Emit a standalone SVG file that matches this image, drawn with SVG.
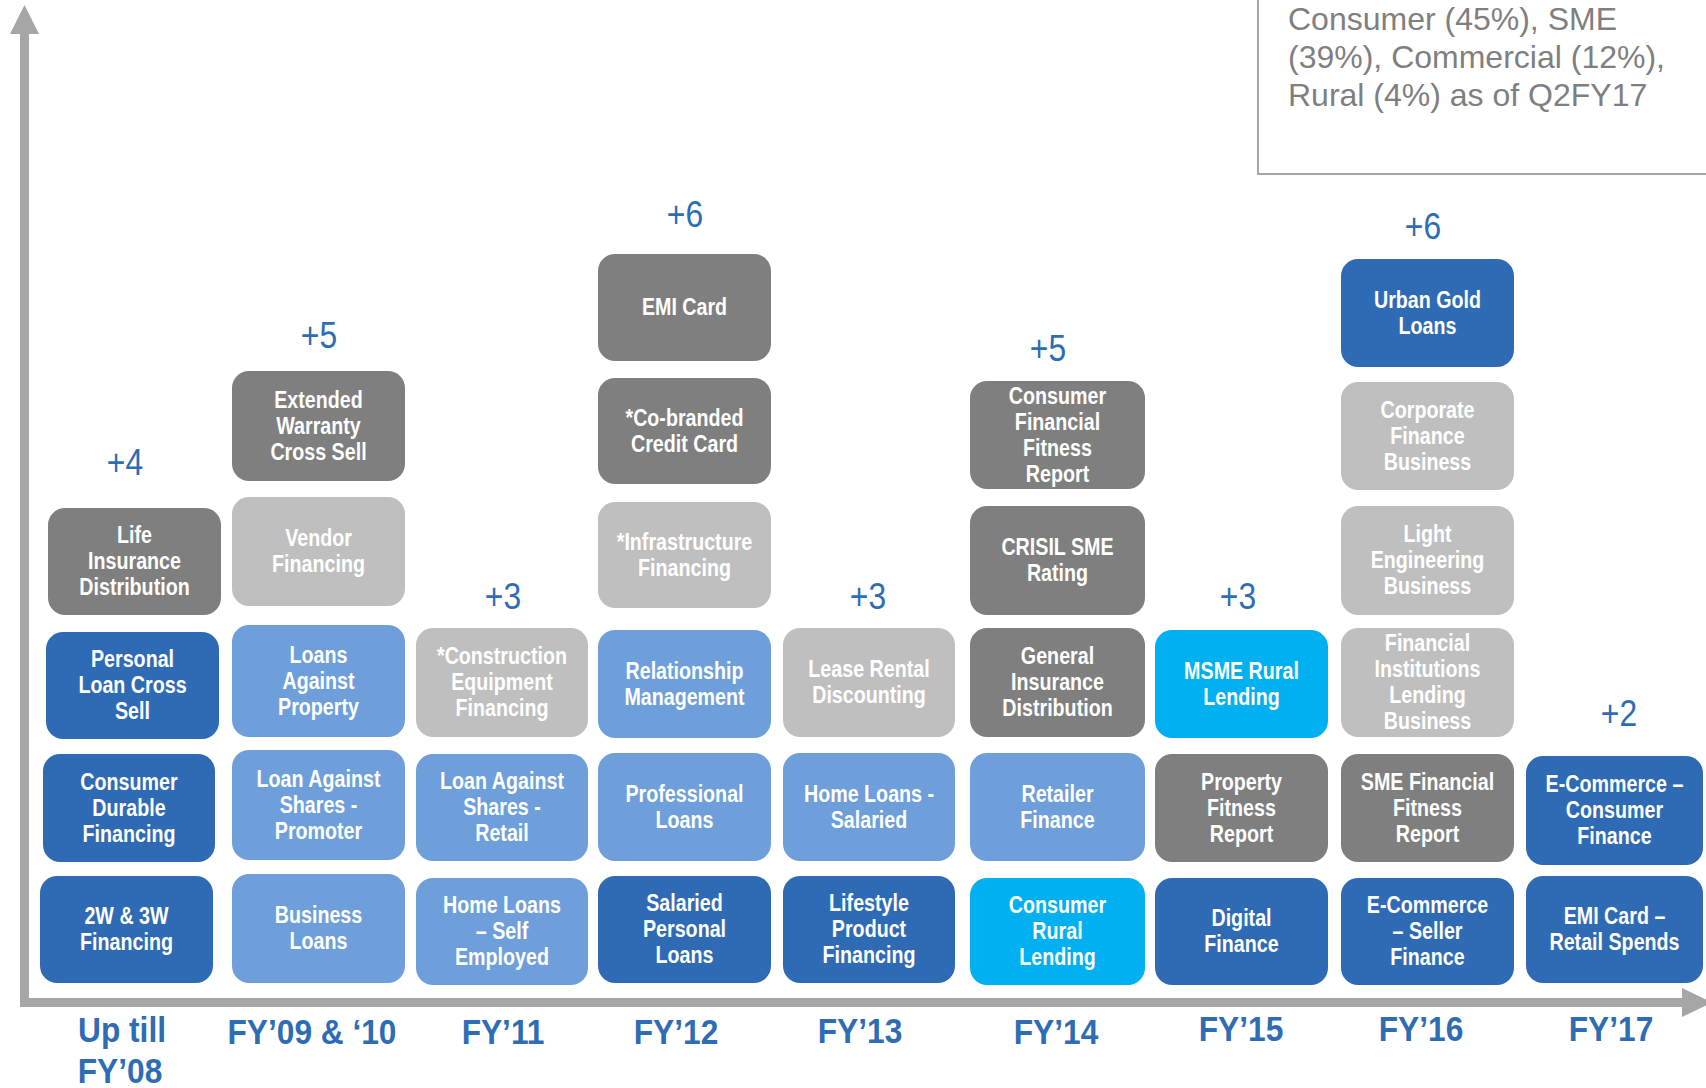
<svg xmlns="http://www.w3.org/2000/svg" width="1706" height="1088" viewBox="0 0 1706 1088">
<style>
.db{fill:#2F6BB5}.mb{fill:#6E9FDA}.dg{fill:#7F7F7F}.lg{fill:#BFBFBF}.cy{fill:#00B0F0}
.t{font-family:"Liberation Sans",Arial,sans-serif;font-weight:bold;font-size:24px;fill:#FFFFFF;text-anchor:middle}
.p{font-family:"Liberation Sans",Arial,sans-serif;font-size:37px;fill:#2E6DB4;text-anchor:middle}
.y{font-family:"Liberation Sans",Arial,sans-serif;font-weight:bold;font-size:36px;fill:#2E6DB4;text-anchor:middle}
.lgd{font-family:"Liberation Sans",Arial,sans-serif;font-size:32px;fill:#7F7F7F}
</style>
<g id="connectors">
<path d="M24.5 33 V1002.5 H1684" fill="none" stroke="#A6A6A6" stroke-width="9"/>
<polygon points="10,34 39,34 24.5,5" fill="#A6A6A6"/>
<polygon points="1682,988 1682,1017 1712,1002.5" fill="#A6A6A6"/>
</g>
<g id="legend">
<rect x="1258" y="-10" width="470" height="184" fill="#FFFFFF" stroke="#A6A6A6" stroke-width="2"/>
<text class="lgd" x="1288" y="30">Consumer (45%), SME</text>
<text class="lgd" x="1288" y="68">(39%), Commercial (12%),</text>
<text class="lgd" x="1288" y="106">Rural (4%) as of Q2FY17</text>
</g>
<g id="plus-labels">
<text class="p" transform="matrix(0.86,0,0,1,125,0)" x="0" y="475">+4</text>
<text class="p" transform="matrix(0.86,0,0,1,319,0)" x="0" y="348">+5</text>
<text class="p" transform="matrix(0.86,0,0,1,503,0)" x="0" y="609">+3</text>
<text class="p" transform="matrix(0.86,0,0,1,685,0)" x="0" y="227">+6</text>
<text class="p" transform="matrix(0.86,0,0,1,868,0)" x="0" y="609">+3</text>
<text class="p" transform="matrix(0.86,0,0,1,1048,0)" x="0" y="361">+5</text>
<text class="p" transform="matrix(0.86,0,0,1,1238,0)" x="0" y="609">+3</text>
<text class="p" transform="matrix(0.86,0,0,1,1423,0)" x="0" y="239">+6</text>
<text class="p" transform="matrix(0.86,0,0,1,1619,0)" x="0" y="726">+2</text>
</g>
<g id="year-labels">
<text class="y" transform="matrix(0.88,0,0,1,122,0)" x="0" y="1042">Up till</text>
<text class="y" transform="matrix(0.88,0,0,1,120,0)" x="0" y="1083">FY’08</text>
<text class="y" transform="matrix(0.88,0,0,1,312,0)" x="0" y="1044">FY’09 &amp; ‘10</text>
<text class="y" transform="matrix(0.88,0,0,1,503,0)" x="0" y="1044">FY’11</text>
<text class="y" transform="matrix(0.88,0,0,1,676,0)" x="0" y="1044">FY’12</text>
<text class="y" transform="matrix(0.88,0,0,1,860,0)" x="0" y="1043">FY’13</text>
<text class="y" transform="matrix(0.88,0,0,1,1056,0)" x="0" y="1044">FY’14</text>
<text class="y" transform="matrix(0.88,0,0,1,1241,0)" x="0" y="1041">FY’15</text>
<text class="y" transform="matrix(0.88,0,0,1,1421,0)" x="0" y="1041">FY’16</text>
<text class="y" transform="matrix(0.88,0,0,1,1611,0)" x="0" y="1041">FY’17</text>
</g>
<g id="n-life"><rect class="dg" x="48" y="508" width="173" height="107" rx="17"/><text class="t" transform="matrix(0.82,0,0,1,134.5,0)" y="543.5"><tspan x="0">Life</tspan><tspan x="0" dy="26">Insurance</tspan><tspan x="0" dy="26">Distribution</tspan></text></g>
<g id="n-personal"><rect class="db" x="46" y="632" width="173" height="107" rx="17"/><text class="t" transform="matrix(0.82,0,0,1,132.5,0)" y="667.5"><tspan x="0">Personal</tspan><tspan x="0" dy="26">Loan Cross</tspan><tspan x="0" dy="26">Sell</tspan></text></g>
<g id="n-durable"><rect class="db" x="43" y="754" width="172" height="108" rx="17"/><text class="t" transform="matrix(0.82,0,0,1,129,0)" y="790"><tspan x="0">Consumer</tspan><tspan x="0" dy="26">Durable</tspan><tspan x="0" dy="26">Financing</tspan></text></g>
<g id="n-2w"><rect class="db" x="40" y="876" width="173" height="107" rx="17"/><text class="t" transform="matrix(0.82,0,0,1,126.5,0)" y="924.5"><tspan x="0">2W &amp; 3W</tspan><tspan x="0" dy="26">Financing</tspan></text></g>
<g id="n-warranty"><rect class="dg" x="232" y="371" width="173" height="110" rx="17"/><text class="t" transform="matrix(0.82,0,0,1,318.5,0)" y="408"><tspan x="0">Extended</tspan><tspan x="0" dy="26">Warranty</tspan><tspan x="0" dy="26">Cross Sell</tspan></text></g>
<g id="n-vendor"><rect class="lg" x="232" y="497" width="173" height="109" rx="17"/><text class="t" transform="matrix(0.82,0,0,1,318.5,0)" y="546.5"><tspan x="0">Vendor</tspan><tspan x="0" dy="26">Financing</tspan></text></g>
<g id="n-lap"><rect class="mb" x="232" y="625" width="173" height="112" rx="17"/><text class="t" transform="matrix(0.82,0,0,1,318.5,0)" y="663"><tspan x="0">Loans</tspan><tspan x="0" dy="26">Against</tspan><tspan x="0" dy="26">Property</tspan></text></g>
<g id="n-las-promoter"><rect class="mb" x="232" y="750" width="173" height="110" rx="17"/><text class="t" transform="matrix(0.82,0,0,1,318.5,0)" y="787"><tspan x="0">Loan Against</tspan><tspan x="0" dy="26">Shares -</tspan><tspan x="0" dy="26">Promoter</tspan></text></g>
<g id="n-business"><rect class="mb" x="232" y="874" width="173" height="109" rx="17"/><text class="t" transform="matrix(0.82,0,0,1,318.5,0)" y="923.5"><tspan x="0">Business</tspan><tspan x="0" dy="26">Loans</tspan></text></g>
<g id="n-construction"><rect class="lg" x="416" y="628" width="172" height="109" rx="17"/><text class="t" transform="matrix(0.82,0,0,1,502,0)" y="664.5"><tspan x="0">*Construction</tspan><tspan x="0" dy="26">Equipment</tspan><tspan x="0" dy="26">Financing</tspan></text></g>
<g id="n-las-retail"><rect class="mb" x="416" y="754" width="172" height="107" rx="17"/><text class="t" transform="matrix(0.82,0,0,1,502,0)" y="789.5"><tspan x="0">Loan Against</tspan><tspan x="0" dy="26">Shares -</tspan><tspan x="0" dy="26">Retail</tspan></text></g>
<g id="n-home-self"><rect class="mb" x="416" y="878" width="172" height="107" rx="17"/><text class="t" transform="matrix(0.82,0,0,1,502,0)" y="913.5"><tspan x="0">Home Loans</tspan><tspan x="0" dy="26">– Self</tspan><tspan x="0" dy="26">Employed</tspan></text></g>
<g id="n-emi-card"><rect class="dg" x="598" y="254" width="173" height="107" rx="17"/><text class="t" transform="matrix(0.82,0,0,1,684.5,0)" x="0" y="315.5">EMI Card</text></g>
<g id="n-cobranded"><rect class="dg" x="598" y="378" width="173" height="106" rx="17"/><text class="t" transform="matrix(0.82,0,0,1,684.5,0)" y="426"><tspan x="0">*Co-branded</tspan><tspan x="0" dy="26">Credit Card</tspan></text></g>
<g id="n-infra"><rect class="lg" x="598" y="502" width="173" height="106" rx="17"/><text class="t" transform="matrix(0.82,0,0,1,684.5,0)" y="550"><tspan x="0">*Infrastructure</tspan><tspan x="0" dy="26">Financing</tspan></text></g>
<g id="n-relationship"><rect class="mb" x="598" y="630" width="173" height="108" rx="17"/><text class="t" transform="matrix(0.82,0,0,1,684.5,0)" y="679"><tspan x="0">Relationship</tspan><tspan x="0" dy="26">Management</tspan></text></g>
<g id="n-professional"><rect class="mb" x="598" y="753" width="173" height="108" rx="17"/><text class="t" transform="matrix(0.82,0,0,1,684.5,0)" y="802"><tspan x="0">Professional</tspan><tspan x="0" dy="26">Loans</tspan></text></g>
<g id="n-salaried-pl"><rect class="db" x="598" y="876" width="173" height="107" rx="17"/><text class="t" transform="matrix(0.82,0,0,1,684.5,0)" y="911.5"><tspan x="0">Salaried</tspan><tspan x="0" dy="26">Personal</tspan><tspan x="0" dy="26">Loans</tspan></text></g>
<g id="n-lease"><rect class="lg" x="783" y="628" width="172" height="109" rx="17"/><text class="t" transform="matrix(0.82,0,0,1,869,0)" y="677.5"><tspan x="0">Lease Rental</tspan><tspan x="0" dy="26">Discounting</tspan></text></g>
<g id="n-home-salaried"><rect class="mb" x="783" y="753" width="172" height="108" rx="17"/><text class="t" transform="matrix(0.82,0,0,1,869,0)" y="802"><tspan x="0">Home Loans -</tspan><tspan x="0" dy="26">Salaried</tspan></text></g>
<g id="n-lifestyle"><rect class="db" x="783" y="876" width="172" height="107" rx="17"/><text class="t" transform="matrix(0.82,0,0,1,869,0)" y="911.5"><tspan x="0">Lifestyle</tspan><tspan x="0" dy="26">Product</tspan><tspan x="0" dy="26">Financing</tspan></text></g>
<g id="n-cffr"><rect class="dg" x="970" y="381" width="175" height="108" rx="17"/><text class="t" transform="matrix(0.82,0,0,1,1057.5,0)" y="404"><tspan x="0">Consumer</tspan><tspan x="0" dy="26">Financial</tspan><tspan x="0" dy="26">Fitness</tspan><tspan x="0" dy="26">Report</tspan></text></g>
<g id="n-crisil"><rect class="dg" x="970" y="506" width="175" height="109" rx="17"/><text class="t" transform="matrix(0.82,0,0,1,1057.5,0)" y="555.5"><tspan x="0">CRISIL SME</tspan><tspan x="0" dy="26">Rating</tspan></text></g>
<g id="n-general-ins"><rect class="dg" x="970" y="628" width="175" height="109" rx="17"/><text class="t" transform="matrix(0.82,0,0,1,1057.5,0)" y="664.5"><tspan x="0">General</tspan><tspan x="0" dy="26">Insurance</tspan><tspan x="0" dy="26">Distribution</tspan></text></g>
<g id="n-retailer"><rect class="mb" x="970" y="753" width="175" height="108" rx="17"/><text class="t" transform="matrix(0.82,0,0,1,1057.5,0)" y="802"><tspan x="0">Retailer</tspan><tspan x="0" dy="26">Finance</tspan></text></g>
<g id="n-consumer-rural"><rect class="cy" x="970" y="878" width="175" height="107" rx="17"/><text class="t" transform="matrix(0.82,0,0,1,1057.5,0)" y="913.5"><tspan x="0">Consumer</tspan><tspan x="0" dy="26">Rural</tspan><tspan x="0" dy="26">Lending</tspan></text></g>
<g id="n-msme"><rect class="cy" x="1155" y="630" width="173" height="108" rx="17"/><text class="t" transform="matrix(0.82,0,0,1,1241.5,0)" y="679"><tspan x="0">MSME Rural</tspan><tspan x="0" dy="26">Lending</tspan></text></g>
<g id="n-property-fitness"><rect class="dg" x="1155" y="754" width="173" height="108" rx="17"/><text class="t" transform="matrix(0.82,0,0,1,1241.5,0)" y="790"><tspan x="0">Property</tspan><tspan x="0" dy="26">Fitness</tspan><tspan x="0" dy="26">Report</tspan></text></g>
<g id="n-digital"><rect class="db" x="1155" y="878" width="173" height="107" rx="17"/><text class="t" transform="matrix(0.82,0,0,1,1241.5,0)" y="926.5"><tspan x="0">Digital</tspan><tspan x="0" dy="26">Finance</tspan></text></g>
<g id="n-urban-gold"><rect class="db" x="1341" y="259" width="173" height="108" rx="17"/><text class="t" transform="matrix(0.82,0,0,1,1427.5,0)" y="308"><tspan x="0">Urban Gold</tspan><tspan x="0" dy="26">Loans</tspan></text></g>
<g id="n-corporate"><rect class="lg" x="1341" y="382" width="173" height="108" rx="17"/><text class="t" transform="matrix(0.82,0,0,1,1427.5,0)" y="418"><tspan x="0">Corporate</tspan><tspan x="0" dy="26">Finance</tspan><tspan x="0" dy="26">Business</tspan></text></g>
<g id="n-light-eng"><rect class="lg" x="1341" y="506" width="173" height="109" rx="17"/><text class="t" transform="matrix(0.82,0,0,1,1427.5,0)" y="542.5"><tspan x="0">Light</tspan><tspan x="0" dy="26">Engineering</tspan><tspan x="0" dy="26">Business</tspan></text></g>
<g id="n-fil"><rect class="lg" x="1341" y="628" width="173" height="109" rx="17"/><text class="t" transform="matrix(0.82,0,0,1,1427.5,0)" y="651.5"><tspan x="0">Financial</tspan><tspan x="0" dy="26">Institutions</tspan><tspan x="0" dy="26">Lending</tspan><tspan x="0" dy="26">Business</tspan></text></g>
<g id="n-sme-fitness"><rect class="dg" x="1341" y="754" width="173" height="108" rx="17"/><text class="t" transform="matrix(0.82,0,0,1,1427.5,0)" y="790"><tspan x="0">SME Financial</tspan><tspan x="0" dy="26">Fitness</tspan><tspan x="0" dy="26">Report</tspan></text></g>
<g id="n-ecom-seller"><rect class="db" x="1341" y="878" width="173" height="107" rx="17"/><text class="t" transform="matrix(0.82,0,0,1,1427.5,0)" y="913.5"><tspan x="0">E-Commerce</tspan><tspan x="0" dy="26">– Seller</tspan><tspan x="0" dy="26">Finance</tspan></text></g>
<g id="n-ecom-consumer"><rect class="db" x="1526" y="756" width="177" height="109" rx="17"/><text class="t" transform="matrix(0.82,0,0,1,1614.5,0)" y="792.5"><tspan x="0">E-Commerce –</tspan><tspan x="0" dy="26">Consumer</tspan><tspan x="0" dy="26">Finance</tspan></text></g>
<g id="n-emi-retail"><rect class="db" x="1526" y="876" width="177" height="107" rx="17"/><text class="t" transform="matrix(0.82,0,0,1,1614.5,0)" y="924.5"><tspan x="0">EMI Card –</tspan><tspan x="0" dy="26">Retail Spends</tspan></text></g>
</svg>
